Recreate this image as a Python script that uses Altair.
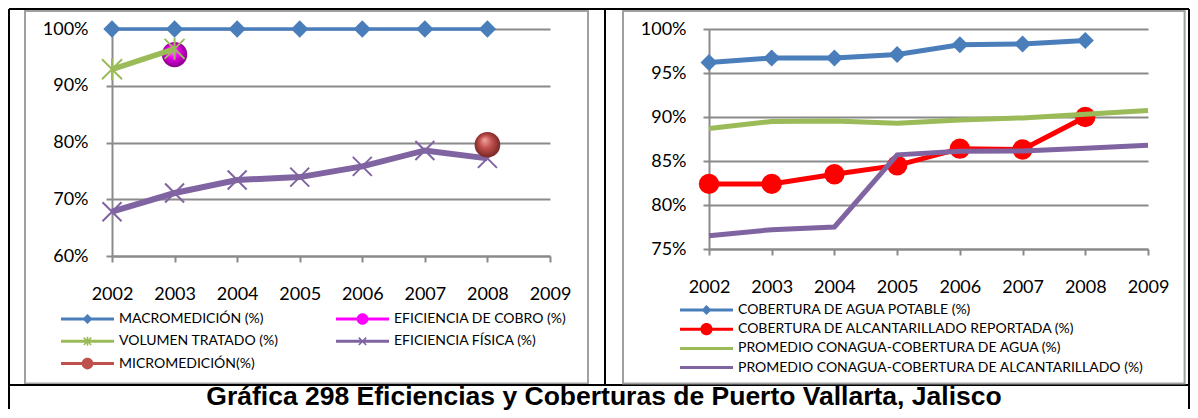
import altair as alt
import pandas as pd

# ---------------- data ----------------
YEARS = [2002, 2003, 2004, 2005, 2006, 2007, 2008, 2009]

LEFT_SERIES = ["MACROMEDICIÓN (%)", "EFICIENCIA DE COBRO (%)", "VOLUMEN TRATADO (%)",
               "EFICIENCIA FÍSICA (%)", "MICROMEDICIÓN(%)"]
MACROMEDICION = [100, 100, 100, 100, 100, 100, 100, None]
EFICIENCIA_COBRO = [None, 95.5, None, None, None, None, None, None]
VOLUMEN_TRATADO = [92.9, 96.5, None, None, None, None, None, None]
EFICIENCIA_FISICA = [67.8, 71.1, 73.4, 73.9, 75.8, 78.6, 77.2, None]
MICROMEDICION = [None, None, None, None, None, None, 79.6, None]

RIGHT_SERIES = ["COBERTURA DE AGUA POTABLE (%)", "COBERTURA DE ALCANTARILLADO REPORTADA (%)",
                "PROMEDIO CONAGUA-COBERTURA DE AGUA (%)",
                "PROMEDIO CONAGUA-COBERTURA DE ALCANTARILLADO (%)"]
COB_AGUA = [96.2, 96.7, 96.7, 97.1, 98.2, 98.3, 98.7, None]
COB_ALC = [82.4, 82.4, 83.5, 84.5, 86.4, 86.3, 90.0, None]
PROM_AGUA = [88.7, 89.5, 89.55, 89.3, 89.65, 89.9, 90.3, 90.75]
PROM_ALC = [76.5, 77.2, 77.5, 85.7, 86.1, 86.15, 86.45, 86.8]

LEFT_TICKS = [60, 70, 80, 90, 100]
RIGHT_TICKS = [75, 80, 85, 90, 95, 100]
TITLE = "Gráfica 298 Eficiencias y Coberturas de Puerto Vallarta, Jalisco"


def long_table(names, arrays):
    rows = []
    for name, arr in zip(names, arrays):
        for yr, v in zip(YEARS, arr):
            if v is not None:
                rows.append({"serie": name, "year": yr, "value": v})
    return pd.DataFrame(rows)


df_left = long_table(LEFT_SERIES, [MACROMEDICION, EFICIENCIA_COBRO, VOLUMEN_TRATADO,
                                   EFICIENCIA_FISICA, MICROMEDICION])
df_right = long_table(RIGHT_SERIES, [COB_AGUA, COB_ALC, PROM_AGUA, PROM_ALC])

# ---------------- styles ----------------
BLUE = "#4A7EBB"
MAGENTA = "#FF00FF"
GREEN = "#9BBB59"
PURPLE = "#8064A2"
BRICK = "#C0504D"
RED = "#FF0000"
GRID = "#8A8A8A"
FRAME = "#A0A0A0"


def poly(pts):
    area = sum(x1 * y2 - x2 * y1 for (x1, y1), (x2, y2) in zip(pts, pts[1:] + pts[:1]))
    if area < 0:
        pts = pts[::-1]
    return "M" + "L".join(f"{x:.4f},{y:.4f}" for x, y in pts) + "Z"


def bar(t=0.057):
    return poly([(-1, -t), (1, -t), (1, t), (-1, t)])


def diamond(r):
    return poly([(0, -r), (r, 0), (0, r), (-r, 0)])


def circle(r):
    return f"M{-r},0A{r},{r} 0 1,1 {r},0A{r},{r} 0 1,1 {-r},0Z"


def arm(x0, y0, x1, y1, t):
    dx, dy = x1 - x0, y1 - y0
    ln = (dx * dx + dy * dy) ** 0.5
    nx, ny = -dy / ln * t, dx / ln * t
    return poly([(x0 + nx, y0 + ny), (x1 + nx, y1 + ny), (x1 - nx, y1 - ny), (x0 - nx, y0 - ny)])


def xmark(a, t=0.03):
    return arm(-a, -a, a, a, t) + arm(a, -a, -a, a, t)


def star(a, t=0.03):
    return xmark(a, t) + arm(0, -a * 1.2, 0, a * 1.2, t)


LEFT_COLORS = [BLUE, MAGENTA, GREEN, PURPLE, BRICK]
LEFT_LEG_SHAPES = [bar() + diamond(0.19), bar() + circle(0.22), bar() + star(0.14),
                   bar() + xmark(0.14), bar() + circle(0.22)]
RIGHT_COLORS = [BLUE, RED, GREEN, PURPLE]
RIGHT_LEG_SHAPES = [bar() + diamond(0.19), bar() + circle(0.23), bar(), bar()]

X_PATH = "M-1,-1L1,1M1,-1L-1,1"
STAR_PATH = "M-1,-1L1,1M1,-1L-1,1M0,-1.1L0,1.1"


def ball(c_hi, c_mid, c_lo):
    return {"gradient": "radial", "x1": 0.38, "y1": 0.3, "r1": 0.0,
            "x2": 0.5, "y2": 0.5, "r2": 0.55,
            "stops": [{"offset": 0.0, "color": c_hi},
                      {"offset": 0.45, "color": c_mid},
                      {"offset": 1.0, "color": c_lo}]}


FONT = "Lato"


def x_enc():
    return alt.X("year:Q", scale=alt.Scale(domain=[2002, 2009], nice=False, zero=False),
                 axis=alt.Axis(values=YEARS, format="d", title=None, grid=False,
                               labelFont=FONT, labelFontSize=18, labelColor="#000000",
                               labelPadding=23, labelFlush=False, labelOverlap=False,
                               tickSize=6, tickColor=GRID, tickWidth=2,
                               domainColor=GRID, domainWidth=2))


def y_enc(domain, ticks, pad):
    return alt.Y("value:Q", scale=alt.Scale(domain=domain, nice=False, zero=False),
                 axis=alt.Axis(values=ticks, labelExpr="datum.value + '%'", title=None,
                               grid=True, gridColor=GRID, gridWidth=2,
                               labelFont=FONT, labelFontSize=18, labelColor="#000000",
                               labelPadding=pad, labelOverlap=False,
                               tickSize=6, tickColor=GRID, tickWidth=2,
                               domainColor=GRID, domainWidth=2))


ONE = alt.Data(values=[{"k": 0}])


def vrule(x, y1, y2, color="#000000", w=2):
    return alt.Chart(ONE).mark_rule(color=color, strokeWidth=w).encode(
        x=alt.value(x), y=alt.value(y1), y2=alt.value(y2))


def hrule(y, x1, x2, color="#000000", w=2):
    return alt.Chart(ONE).mark_rule(color=color, strokeWidth=w).encode(
        y=alt.value(y), x=alt.value(x1), x2=alt.value(x2))


def frame(x1, x2, y1, y2):
    return [hrule(y1, x1 - 1, x2 + 1, FRAME), hrule(y2, x1 - 1, x2 + 1, FRAME),
            vrule(x1, y1, y2, FRAME), vrule(x2, y1, y2, FRAME)]


def legend_layer(df, names, colors, shapes, ydom, yt, pad, **leg):
    common = dict(orient="none", title=None, padding=0, symbolSize=2809,
                  symbolStrokeWidth=0, symbolOpacity=1, labelFont=FONT, labelFontSize=14,
                  labelColor="#000000", labelOffset=5, labelLimit=0, clipHeight=16, **leg)
    return alt.Chart(df).transform_filter("false").mark_point(filled=True, opacity=1).encode(
        x=x_enc(), y=y_enc(ydom, yt, pad),
        color=alt.Color("serie:N", scale=alt.Scale(domain=names, range=colors),
                        legend=alt.Legend(**common)),
        shape=alt.Shape("serie:N", scale=alt.Scale(domain=names, range=shapes),
                        legend=alt.Legend(**common)))


def lsel(df, name):
    return alt.Chart(df).transform_filter(alt.datum.serie == name)


# ---------------- left panel ----------------
LD = [60, 100]


def enc_l():
    return dict(x=x_enc(), y=y_enc(LD, LEFT_TICKS, 18))


left_layers = frame(-87, 476, -18, 354.5) + [
    lsel(df_left, LEFT_SERIES[0]).mark_line(color=BLUE, strokeWidth=3.5).encode(**enc_l()),
    lsel(df_left, LEFT_SERIES[0]).mark_point(shape="diamond", filled=True, size=300,
                                             color=BLUE, opacity=1).encode(**enc_l()),
    lsel(df_left, LEFT_SERIES[1]).mark_point(shape="circle", filled=True, size=640, opacity=1,
                                             fill=ball("#FFB8FF", "#F000F0", "#7A007A"),
                                             strokeWidth=0).encode(**enc_l()),
    lsel(df_left, LEFT_SERIES[2]).mark_line(color=GREEN, strokeWidth=5.5).encode(**enc_l()),
    lsel(df_left, LEFT_SERIES[2]).mark_point(shape=STAR_PATH, filled=False, size=400,
                                             color=GREEN, strokeWidth=2, opacity=1).encode(**enc_l()),
    lsel(df_left, LEFT_SERIES[3]).mark_line(color=PURPLE, strokeWidth=6).encode(**enc_l()),
    lsel(df_left, LEFT_SERIES[3]).mark_point(shape=X_PATH, filled=False, size=361,
                                             color=PURPLE, strokeWidth=2, opacity=1).encode(**enc_l()),
    lsel(df_left, LEFT_SERIES[4]).mark_point(shape="circle", filled=True, size=660, opacity=1,
                                             fill=ball("#F2A8A6", "#C0504D", "#6E2220"),
                                             strokeWidth=0).encode(**enc_l()),
    legend_layer(df_left, LEFT_SERIES, LEFT_COLORS, LEFT_LEG_SHAPES, LD, LEFT_TICKS, 18,
                 legendX=-51, legendY=282, columns=2, direction="horizontal",
                 columnPadding=57, rowPadding=6.3),
    # table borders
    hrule(-20, -103, 1077),
    vrule(-103, -20, 380),
    vrule(1077, -20, 380),
    hrule(356, -103, 1077),
    vrule(493, -20, 356),
    alt.Chart(ONE).mark_text(font="Liberation Sans", fontWeight="bold", fontSize=26.5,
                             align="center", baseline="alphabetic", color="#000000").encode(
        x=alt.value(492), y=alt.value(376), text=alt.value(TITLE)),
]
left = alt.layer(*left_layers).properties(width=438, height=227)

# ---------------- right panel ----------------
RD = [75, 100]


def enc_r():
    return dict(x=x_enc(), y=y_enc(RD, RIGHT_TICKS, 17))


right_layers = frame(-86, 475.6, -18, 354.5) + [
    lsel(df_right, RIGHT_SERIES[0]).mark_line(color=BLUE, strokeWidth=5).encode(**enc_r()),
    lsel(df_right, RIGHT_SERIES[0]).mark_point(shape="diamond", filled=True, size=290,
                                               color=BLUE, opacity=1).encode(**enc_r()),
    lsel(df_right, RIGHT_SERIES[1]).mark_line(color=RED, strokeWidth=5).encode(**enc_r()),
    lsel(df_right, RIGHT_SERIES[1]).mark_point(shape="circle", filled=True, size=415,
                                               color=RED, opacity=1).encode(**enc_r()),
    lsel(df_right, RIGHT_SERIES[2]).mark_line(color=GREEN, strokeWidth=5).encode(**enc_r()),
    lsel(df_right, RIGHT_SERIES[3]).mark_line(color=PURPLE, strokeWidth=5).encode(**enc_r()),
    legend_layer(df_right, RIGHT_SERIES, RIGHT_COLORS, RIGHT_LEG_SHAPES, RD, RIGHT_TICKS, 17,
                 legendX=-29, legendY=273, rowPadding=3.2),
]
right = alt.layer(*right_layers).properties(width=439, height=220)

chart = alt.hconcat(left, right, spacing=159, bounds="flush").resolve_scale(
    color="independent", shape="independent"
).resolve_legend(
    color="independent", shape="independent"
).properties(
    padding=0, background="#FFFFFF"
).configure_view(stroke=None)

chart.save("out.html", embed_options={"renderer": "svg", "actions": False})
